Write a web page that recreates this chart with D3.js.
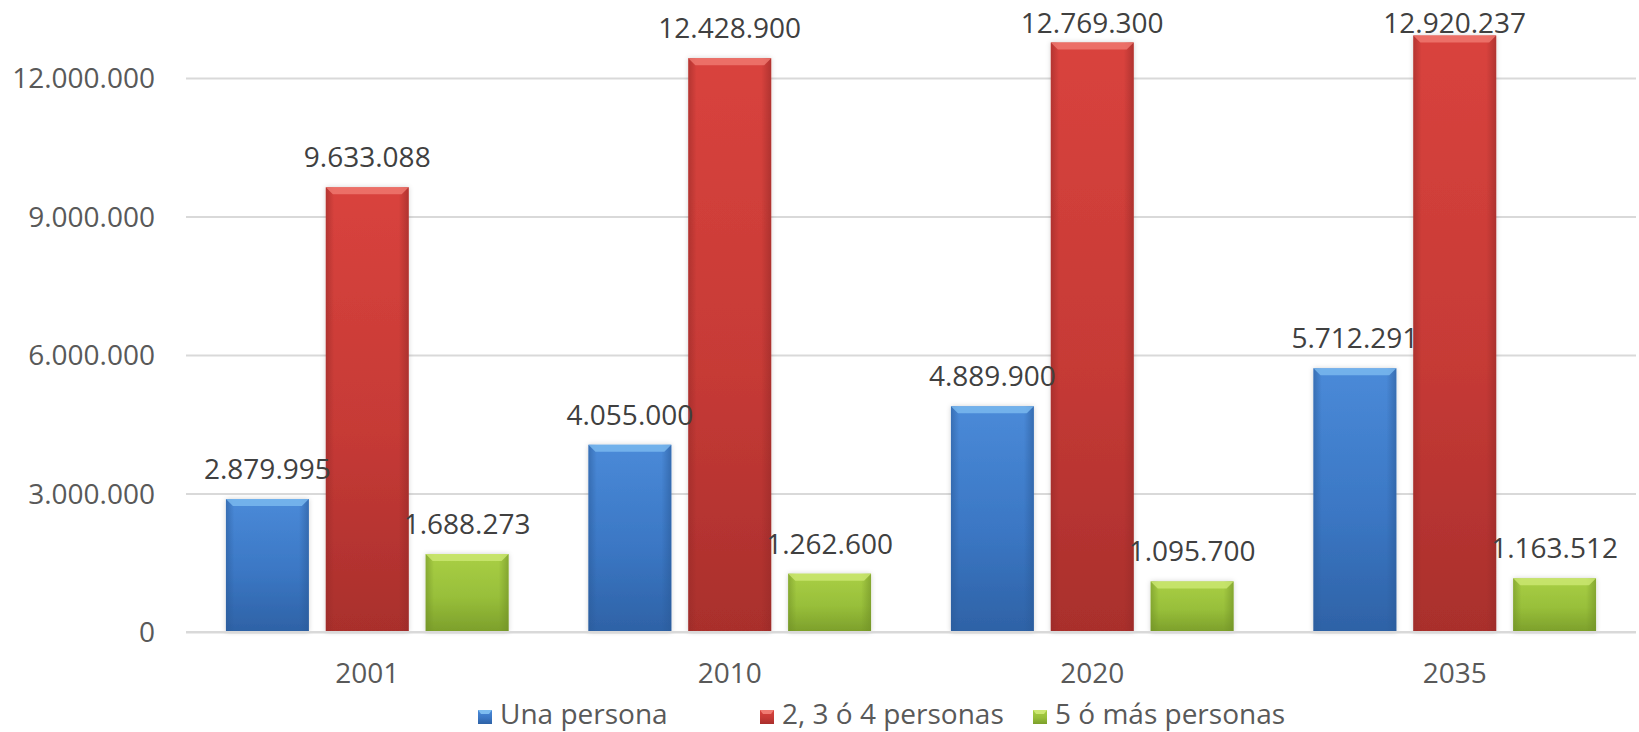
<!DOCTYPE html>
<html>
<head>
<meta charset="utf-8">
<script src="https://cdn.jsdelivr.net/npm/d3@7"></script>
<style>
  body { margin: 0; background: #fff; }
  svg { display: block; }
  svg text { font-family: "Open Sans", sans-serif; }
</style>
</head>
<body>
<div id="chart"></div>
<script>
// data
var years = ["2001", "2010", "2020", "2035"];
var seriesNames = ["Una persona", "2, 3 ó 4 personas", "5 ó más personas"];
var unaPersona = [2879995, 4055000, 4889900, 5712291];
var dosACuatro = [9633088, 12428900, 12769300, 12920237];
var cincoOMas = [1688273, 1262600, 1095700, 1163512];
var yTicks = [0, 3000000, 6000000, 9000000, 12000000];

function drawChart()
{
	var width = 1639, height = 732;
	var mLeft = 186, mRight = 1636, mTop = 78, mBottom = 632;

	var fmt = d3.formatLocale({ decimal: ",", thousands: ".", grouping: [3], currency: ["", "€"] }).format(",d");

	// colours: light top, body, dark bottom, bevel, edge shade
	var pal = [
		{ top: "#4a8ad8", mid: "#3b77c4", bot: "#2e62a6", bevel: "#7dbcf0", edge: "#2a5a98" },
		{ top: "#d9433d", mid: "#c63a36", bot: "#a92f2c", bevel: "#f07b72", edge: "#962a28" },
		{ top: "#a9cf45", mid: "#98bf3a", bot: "#7c9f2b", bevel: "#cde873", edge: "#6f8f26" }
	];

	var rows = years.map(function (yr, i) {
		return { year: yr, values: [unaPersona[i], dosACuatro[i], cincoOMas[i]] };
	});

	var svg = d3.select("#chart").append("svg")
		.attr("width", width)
		.attr("height", height);

	var defs = svg.append("defs");
	pal.forEach(function (p, i) {
		var g = defs.append("linearGradient").attr("id", "v" + i)
			.attr("x1", 0).attr("y1", 0).attr("x2", 0).attr("y2", 1);
		g.append("stop").attr("offset", "0%").attr("stop-color", p.top);
		g.append("stop").attr("offset", "55%").attr("stop-color", p.mid);
		g.append("stop").attr("offset", "100%").attr("stop-color", p.bot);
		var h = defs.append("linearGradient").attr("id", "h" + i)
			.attr("x1", 0).attr("y1", 0).attr("x2", 1).attr("y2", 0);
		h.append("stop").attr("offset", "0%").attr("stop-color", p.edge).attr("stop-opacity", 0.55);
		h.append("stop").attr("offset", "10%").attr("stop-color", p.edge).attr("stop-opacity", 0);
		h.append("stop").attr("offset", "88%").attr("stop-color", p.edge).attr("stop-opacity", 0);
		h.append("stop").attr("offset", "100%").attr("stop-color", p.edge).attr("stop-opacity", 0.6);
	});
	var f = defs.append("filter").attr("id", "shadow")
		.attr("x", "-20%").attr("y", "-20%").attr("width", "140%").attr("height", "140%");
	f.append("feDropShadow").attr("dx", 0).attr("dy", 0).attr("stdDeviation", 2.5)
		.attr("flood-color", "#000").attr("flood-opacity", 0.18);

	var x0 = d3.scaleBand().domain(years).range([mLeft, mRight]).padding(0);
	var x1 = d3.scaleBand().domain(d3.range(3)).range([0, x0.bandwidth()])
		.paddingInner(0.17).paddingOuter(0.4);
	var y = d3.scaleLinear().domain([0, 12000000]).range([mBottom, mTop]);

	// grid + y labels
	var yAxis = svg.append("g")
		.attr("transform", "translate(" + mLeft + ",0)")
		.call(d3.axisLeft(y).tickValues(yTicks).tickFormat(fmt).tickSize(-(mRight - mLeft)).tickPadding(31));
	yAxis.attr("font-family", null).attr("font-size", null);
	yAxis.select(".domain").remove();
	yAxis.selectAll(".tick line").attr("stroke", "#d9d9d9").attr("stroke-width", 2);
	yAxis.selectAll(".tick text")
		.attr("fill", "#595959")
		.style("font-size", "28px")
		.attr("dy", "0.35em");

	// bars
	var group = svg.selectAll(".grp")
		.data(rows)
		.enter().append("g")
		.attr("transform", function (d) { return "translate(" + x0(d.year) + ",0)"; });

	var bar = group.selectAll(".bar")
		.data(function (d) { return d.values.map(function (v, i) { return { s: i, v: v }; }); })
		.enter().append("g");

	bar.append("rect")
		.attr("x", function (d) { return x1(d.s); })
		.attr("y", function (d) { return y(d.v); })
		.attr("width", x1.bandwidth())
		.attr("height", function (d) { return mBottom - y(d.v); })
		.attr("fill", function (d) { return "url(#v" + d.s + ")"; })
		.attr("filter", "url(#shadow)");
	bar.append("rect")
		.attr("x", function (d) { return x1(d.s); })
		.attr("y", function (d) { return y(d.v); })
		.attr("width", x1.bandwidth())
		.attr("height", function (d) { return mBottom - y(d.v); })
		.attr("fill", function (d) { return "url(#h" + d.s + ")"; });
	// top bevel
	bar.append("path")
		.attr("d", function (d) {
			var bx = x1(d.s), bw = x1.bandwidth(), by = y(d.v);
			return "M" + bx + "," + by + "H" + (bx + bw) + "L" + (bx + bw - 7) + "," + (by + 7) +
				"H" + (bx + 7) + "Z";
		})
		.attr("fill", function (d) { return pal[d.s].bevel; })
		.attr("opacity", 0.8);

	// value labels
	group.selectAll(".lbl")
		.data(function (d) { return d.values.map(function (v, i) { return { s: i, v: v }; }); })
		.enter().append("text")
		.attr("x", function (d) { return x1(d.s) + x1.bandwidth() / 2; })
		.attr("y", function (d) { return Math.max(y(d.v) - 20, 33); })
		.attr("text-anchor", "middle")
		.attr("fill", "#404040")
		.style("font-size", "28px")
		.text(function (d) { return fmt(d.v); });

	// x axis
	svg.append("line")
		.attr("x1", mLeft).attr("x2", mRight)
		.attr("y1", mBottom).attr("y2", mBottom)
		.attr("stroke", "#d9d9d9").attr("stroke-width", 2);
	var xAxis = svg.append("g")
		.attr("transform", "translate(0," + mBottom + ")")
		.call(d3.axisBottom(x0).tickSize(0));
	xAxis.attr("font-family", null).attr("font-size", null);
	xAxis.select(".domain").remove();
	xAxis.selectAll(".tick text")
		.attr("y", 51).attr("dy", 0)
		.attr("fill", "#595959")
		.style("font-size", "28px");

	// legend
	var legX = [478, 760, 1033];
	var leg = svg.selectAll(".leg")
		.data(seriesNames)
		.enter().append("g")
		.attr("transform", function (d, i) { return "translate(" + legX[i] + ",710)"; });
	leg.append("rect")
		.attr("width", 14).attr("height", 14)
		.attr("fill", function (d, i) { return "url(#v" + i + ")"; });
	leg.append("path")
		.attr("d", "M0,0H14L11,4H3Z")
		.attr("fill", function (d, i) { return pal[i].bevel; });
	leg.append("text")
		.attr("x", 22).attr("y", 14)
		.attr("fill", "#595959")
		.style("font-size", "28px")
		.text(function (d) { return d; });
}

drawChart();
</script>
</body>
</html>
